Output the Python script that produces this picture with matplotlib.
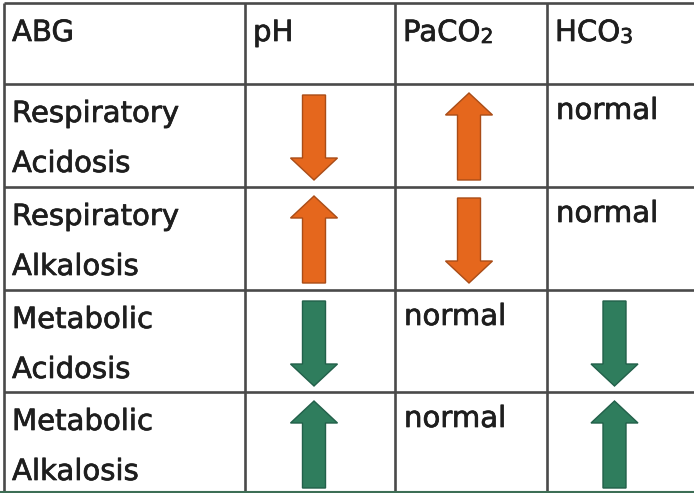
import matplotlib.pyplot as plt
import matplotlib.patheffects as pe

# Table content
headers = ["ABG", "pH", "PaCO", "HCO"]
header_subs = ["", "", "2", "3"]
row_labels = [("Respiratory", "Acidosis"), ("Respiratory", "Alkalosis"),
              ("Metabolic", "Acidosis"), ("Metabolic", "Alkalosis")]
ph = ["down", "up", "down", "up"]
paco2 = ["up", "down", "normal", "normal"]
hco3 = ["normal", "normal", "down", "up"]
row_kind = ["resp", "resp", "meta", "meta"]

# Layout (pixels)
col_edges = [4, 245, 395, 547, 720]
col_arrow_shift = [0, -6, -2, -6]
row_edges = [3, 84, 187, 290, 392, 495]
colors = {"resp": ("#E5671D", "#A94C17"), "meta": ("#2F7D5D", "#22604A")}
line_color = "#4a4a4a"
text_color = "#1e1e1e"
fs = 21
stroke = [pe.withStroke(linewidth=0.5, foreground=text_color)]

fig = plt.figure(figsize=(6.94, 4.93), dpi=100)
ax = fig.add_axes([0, 0, 1, 1])
ax.set_xlim(0, 694)
ax.set_ylim(493, 0)
ax.axis("off")

# grid lines
for x in col_edges[:-1]:
    ax.plot([x, x], [row_edges[0], 493], color=line_color, lw=1.9, solid_capstyle="butt")
for y in row_edges[:-1]:
    ax.plot([col_edges[0], 694], [y, y], color=line_color, lw=1.9, solid_capstyle="butt")
ax.plot([0, 694], [491.5, 491.5], color="#3d6e55", lw=1.5)

# header
for j, (h, sub) in enumerate(zip(headers, header_subs)):
    t = ax.text(col_edges[j] + 8, row_edges[0] + 38, h, fontsize=fs,
                color=text_color, va="baseline", ha="left", path_effects=stroke)
    if sub:
        ax.annotate(sub, xy=(1, 0), xycoords=t, fontsize=fs * 0.7,
                    color=text_color, va="bottom", ha="left", path_effects=stroke)


def draw_arrow(xc, top, direction, kind):
    fc, ec = colors[kind]
    if direction == "down":
        y0, y1 = top + 11, top + 96
    else:
        y0, y1 = top + 96, top + 9
    ax.arrow(xc, y0, 0, y1 - y0, width=23, head_width=47, head_length=22,
             length_includes_head=True, fc=fc, ec=ec, lw=1.0, zorder=3)


for i in range(len(row_labels)):
    top = row_edges[i + 1]
    ax.text(col_edges[0] + 8, top + 38, row_labels[i][0], fontsize=fs,
            color=text_color, va="baseline", path_effects=stroke)
    ax.text(col_edges[0] + 8, top + 88, row_labels[i][1], fontsize=fs,
            color=text_color, va="baseline", path_effects=stroke)
    for j, vals in enumerate([ph, paco2, hco3], start=1):
        v = vals[i]
        if v == "normal":
            ax.text(col_edges[j] + 9, top + 35, "normal", fontsize=fs,
                    color=text_color, va="baseline", path_effects=stroke)
        else:
            xc = (col_edges[j] + min(col_edges[j + 1], 694)) / 2 + col_arrow_shift[j]
            draw_arrow(xc, top, v, row_kind[i])

fig.savefig("out.png", dpi=100, facecolor="white")
